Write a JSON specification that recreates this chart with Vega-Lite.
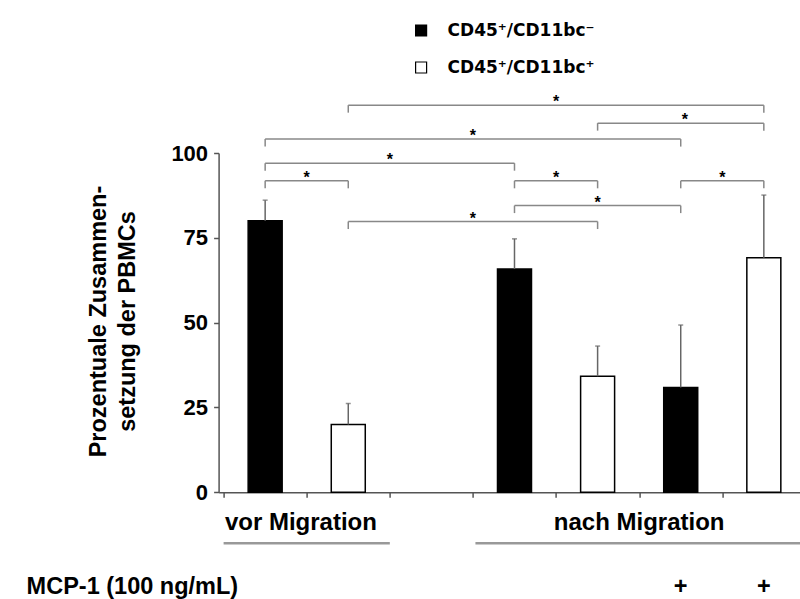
{
  "$schema": "https://vega.github.io/schema/vega-lite/v6.json",
  "width": 581.4,
  "height": 339.3,
  "autosize": {"type": "none"},
  "padding": {"left": 218.6, "top": 153, "right": 0, "bottom": 106.7},
  "background": "white",
  "config": {
    "view": {"stroke": null},
    "font": "Liberation Sans",
    "text": {"font": "Liberation Sans", "fontWeight": "bold", "color": "black"}
  },
  "datasets": {
    "bars": [
      {"pos": 0.5, "cell": "CD45⁺/CD11bc⁻", "pct": 80.0, "upper": 86.1},
      {"pos": 1.5, "cell": "CD45⁺/CD11bc⁺", "pct": 20.0, "upper": 26.2},
      {"pos": 3.5, "cell": "CD45⁺/CD11bc⁻", "pct": 65.8, "upper": 74.7},
      {"pos": 4.5, "cell": "CD45⁺/CD11bc⁺", "pct": 34.2, "upper": 43.1},
      {"pos": 5.5, "cell": "CD45⁺/CD11bc⁻", "pct": 30.9, "upper": 49.3},
      {"pos": 6.5, "cell": "CD45⁺/CD11bc⁺", "pct": 69.1, "upper": 87.6}
    ],
    "brackets": [
      {"from": 0.5, "to": 1.5, "level": 91.8, "mid": 1.0},
      {"from": 0.5, "to": 3.5, "level": 97.0, "mid": 2.0},
      {"from": 0.5, "to": 5.5, "level": 104.1, "mid": 3.0},
      {"from": 1.5, "to": 6.5, "level": 114.1, "mid": 4.0},
      {"from": 4.5, "to": 6.5, "level": 108.8, "mid": 5.55},
      {"from": 1.5, "to": 4.5, "level": 79.8, "mid": 3.0},
      {"from": 3.5, "to": 4.5, "level": 91.8, "mid": 4.0},
      {"from": 3.5, "to": 5.5, "level": 84.5, "mid": 4.5},
      {"from": 5.5, "to": 6.5, "level": 91.8, "mid": 6.0}
    ],
    "groups": [
      {"label": "vor Migration", "at": 0.93, "start": 0, "end": 2.0},
      {"label": "nach Migration", "at": 5.0, "start": 3.03, "end": 7.2}
    ],
    "treatment": [
      {"at": 5.5, "sign": "+"},
      {"at": 6.5, "sign": "+"}
    ]
  },
  "layer": [
    {
      "data": {"name": "bars"},
      "mark": {"type": "bar", "size": 34, "stroke": "black", "strokeWidth": 1.5},
      "encoding": {
        "x": {
          "field": "pos", "type": "quantitative",
          "scale": {"domain": [0, 6.875], "nice": false, "zero": false},
          "axis": {
            "title": null, "values": [0, 1, 2, 3, 4, 5, 6], "labels": false,
            "grid": false, "tickSize": 5, "tickColor": "#555", "domainColor": "#555",
            "domainWidth": 1.5, "tickWidth": 1.5
          }
        },
        "y": {
          "field": "pct", "type": "quantitative",
          "scale": {"domain": [0, 100], "nice": false},
          "axis": {
            "title": ["Prozentuale Zusammen-", "setzung der PBMCs"],
            "titleFont": "Liberation Sans", "titleFontSize": 23.5, "titleFontWeight": "bold",
            "titleColor": "black", "titleAngle": -90, "titleAlign": "center",
            "titleBaseline": "middle", "titleX": -120.6, "titleY": 168, "titleLineHeight": 29,
            "values": [0, 25, 50, 75, 100], "grid": false,
            "labelFont": "Liberation Sans", "labelFontSize": 22, "labelFontWeight": "bold",
            "labelColor": "black", "labelPadding": 6, "tickSize": 5, "tickColor": "#555",
            "tickWidth": 1.5, "domainColor": "#555", "domainWidth": 1.5
          }
        },
        "fill": {
          "field": "cell", "type": "nominal",
          "scale": {"domain": ["CD45⁺/CD11bc⁻", "CD45⁺/CD11bc⁺"], "range": ["black", "white"]},
          "legend": {
            "title": null, "orient": "none", "legendX": 194, "legendY": -131,
            "symbolType": "square", "symbolSize": 121, "symbolStrokeColor": "black",
            "symbolStrokeWidth": 1.2, "labelFont": "DejaVu Sans", "labelFontSize": 17,
            "labelFontWeight": "bold", "labelColor": "black", "labelOffset": 18, "rowPadding": 19
          }
        }
      }
    },
    {
      "data": {"name": "bars"},
      "mark": {"type": "rule", "color": "#666", "strokeWidth": 1.5},
      "encoding": {
        "x": {"field": "pos", "type": "quantitative"},
        "y": {"field": "pct", "type": "quantitative"},
        "y2": {"field": "upper"}
      }
    },
    {
      "data": {"name": "bars"},
      "mark": {"type": "tick", "orient": "horizontal", "size": 5, "thickness": 1.5, "color": "#666"},
      "encoding": {
        "x": {"field": "pos", "type": "quantitative"},
        "y": {"field": "upper", "type": "quantitative"}
      }
    },
    {
      "data": {"name": "brackets"},
      "mark": {"type": "rule", "color": "#888", "strokeWidth": 1.5},
      "encoding": {
        "x": {"field": "from", "type": "quantitative"},
        "x2": {"field": "to"},
        "y": {"field": "level", "type": "quantitative"}
      }
    },
    {
      "data": {"name": "brackets"},
      "mark": {"type": "rule", "color": "#888", "strokeWidth": 1.5, "y2Offset": 7.5},
      "encoding": {
        "x": {"field": "from", "type": "quantitative"},
        "y": {"field": "level", "type": "quantitative"},
        "y2": {"field": "level"}
      }
    },
    {
      "data": {"name": "brackets"},
      "mark": {"type": "rule", "color": "#888", "strokeWidth": 1.5, "y2Offset": 7.5},
      "encoding": {
        "x": {"field": "to", "type": "quantitative"},
        "y": {"field": "level", "type": "quantitative"},
        "y2": {"field": "level"}
      }
    },
    {
      "data": {"name": "brackets"},
      "mark": {"type": "text", "text": "*", "fontSize": 16, "baseline": "alphabetic", "dy": 2},
      "encoding": {
        "x": {"field": "mid", "type": "quantitative"},
        "y": {"field": "level", "type": "quantitative"}
      }
    },
    {
      "data": {"name": "groups"},
      "mark": {"type": "text", "fontSize": 24, "baseline": "alphabetic", "align": "center"},
      "encoding": {
        "x": {"field": "at", "type": "quantitative"},
        "y": {"datum": -11, "type": "quantitative"},
        "text": {"field": "label"}
      }
    },
    {
      "data": {"name": "groups"},
      "mark": {"type": "rule", "color": "#999", "strokeWidth": 2.5},
      "encoding": {
        "x": {"field": "start", "type": "quantitative"},
        "x2": {"field": "end"},
        "y": {"datum": -15, "type": "quantitative"}
      }
    },
    {
      "data": {"values": [{"at": -2.37, "label": "MCP-1 (100 ng/mL)"}]},
      "mark": {"type": "text", "fontSize": 23.5, "baseline": "alphabetic", "align": "left"},
      "encoding": {
        "x": {"field": "at", "type": "quantitative"},
        "y": {"datum": -30, "type": "quantitative"},
        "text": {"field": "label"}
      }
    },
    {
      "data": {"name": "treatment"},
      "mark": {"type": "text", "fontSize": 23.5, "baseline": "alphabetic", "align": "center"},
      "encoding": {
        "x": {"field": "at", "type": "quantitative"},
        "y": {"datum": -30, "type": "quantitative"},
        "text": {"field": "sign"}
      }
    }
  ]
}
